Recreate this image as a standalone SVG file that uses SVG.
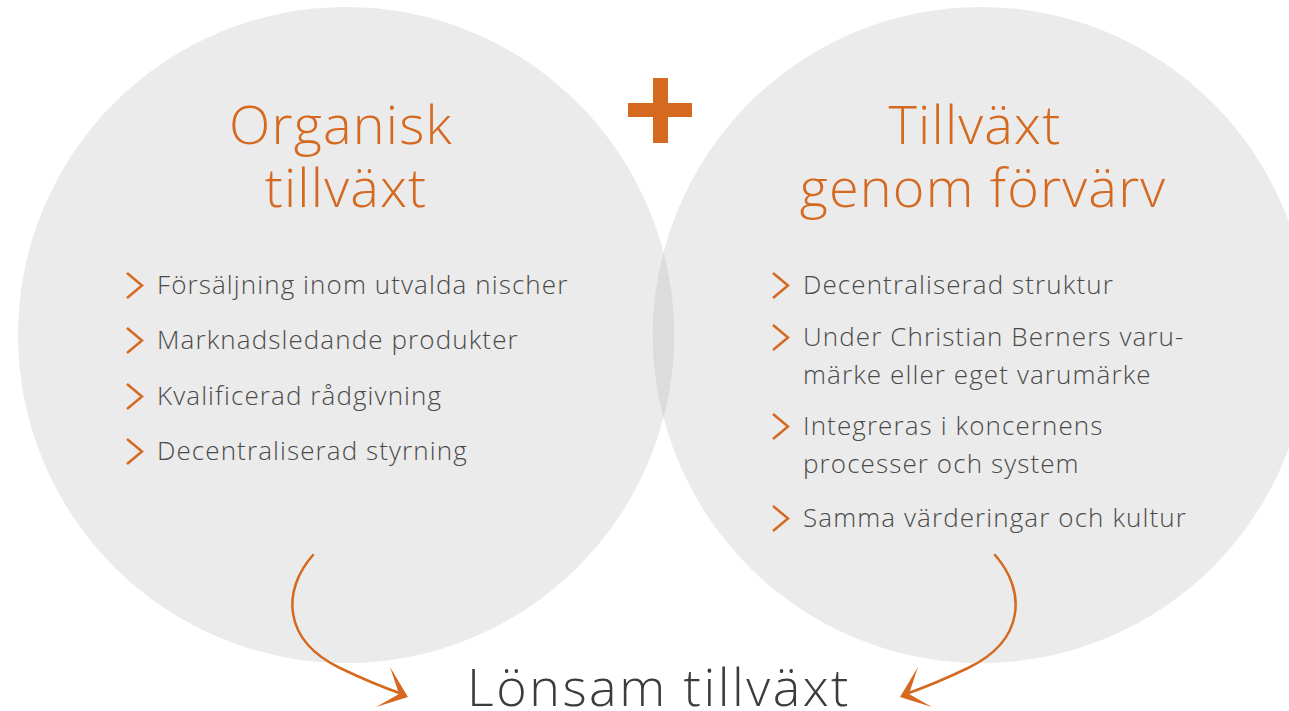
<svg xmlns="http://www.w3.org/2000/svg" width="1289" height="711" viewBox="0 0 1289 711">
<style>
.circ{fill:#ebebeb}
.lens{fill:#dcdcdc}
.title{font-family:"Open Sans","Liberation Sans",sans-serif;font-weight:300;font-size:54px;letter-spacing:1.2px;fill:#d4691f;text-anchor:middle}
.item{font-family:"Open Sans","Liberation Sans",sans-serif;font-weight:300;font-size:26px;letter-spacing:1.1px;fill:#4a4a4a}
.chev{fill:none;stroke:#d4691f;stroke-width:2.5}
.result{font-family:"Open Sans","Liberation Sans",sans-serif;font-weight:300;font-size:52px;letter-spacing:2.5px;fill:#3c3c3c;text-anchor:middle}
.arr{fill:none;stroke:#d4691f;stroke-width:2.5;stroke-linecap:round}
.head{fill:#d4691f}
</style>
<defs>
<path id="chevron" d="M0 0 L15 12.5 L0 25" class="chev"/>
</defs>
<rect width="1289" height="711" fill="#ffffff"/>
<g id="organisk">
<circle class="circ" cx="346" cy="335" r="328"/>
</g>
<g id="forvarv">
<circle class="circ" cx="981" cy="335" r="328"/>
</g>
<path class="lens" d="M663.5 252 A328 328 0 0 1 663.5 418 A328 328 0 0 1 663.5 252 Z"/>
<g id="plus">
<rect x="628" y="103" width="64" height="14" fill="#d4691f"/>
<rect x="653" y="78" width="15" height="65" fill="#d4691f"/>
</g>
<g id="organisk-text">
<text class="title" x="341" y="144">Organisk</text>
<text class="title" x="346" y="207">tillväxt</text>
<use href="#chevron" x="127" y="273"/>
<text class="item" x="157" y="294">Försäljning inom utvalda nischer</text>
<use href="#chevron" x="127" y="328"/>
<text class="item" x="157" y="349">Marknadsledande produkter</text>
<use href="#chevron" x="127" y="384"/>
<text class="item" x="157" y="405">Kvalificerad rådgivning</text>
<use href="#chevron" x="127" y="439"/>
<text class="item" x="157" y="460">Decentraliserad styrning</text>
</g>
<g id="forvarv-text">
<text class="title" x="975" y="144">Tillväxt</text>
<text class="title" x="983" y="207">genom förvärv</text>
<use href="#chevron" x="773" y="273"/>
<text class="item" x="803" y="294">Decentraliserad struktur</text>
<use href="#chevron" x="773" y="325"/>
<text class="item" x="803" y="346">Under Christian Berners varu-</text>
<text class="item" x="803" y="384">märke eller eget varumärke</text>
<use href="#chevron" x="773" y="414"/>
<text class="item" x="803" y="435">Integreras i koncernens</text>
<text class="item" x="803" y="473">processer och system</text>
<use href="#chevron" x="773" y="506"/>
<text class="item" x="803" y="527">Samma värderingar och kultur</text>
</g>
<g id="connectors">
<path class="arr" d="M313 555 C282 590 282 640 340 668 C365 680 385 688 402 694"/>
<polygon class="head" points="390,667 408,697 376,707 399,694"/>
<path class="arr" d="M995 555 C1026 590 1026 640 968 668 C943 680 923 688 906 694"/>
<polygon class="head" points="918,667 900,697 932,707 909,694"/>
</g>
<g id="lonsam">
<text class="result" x="659" y="706">Lönsam tillväxt</text>
</g>
</svg>
